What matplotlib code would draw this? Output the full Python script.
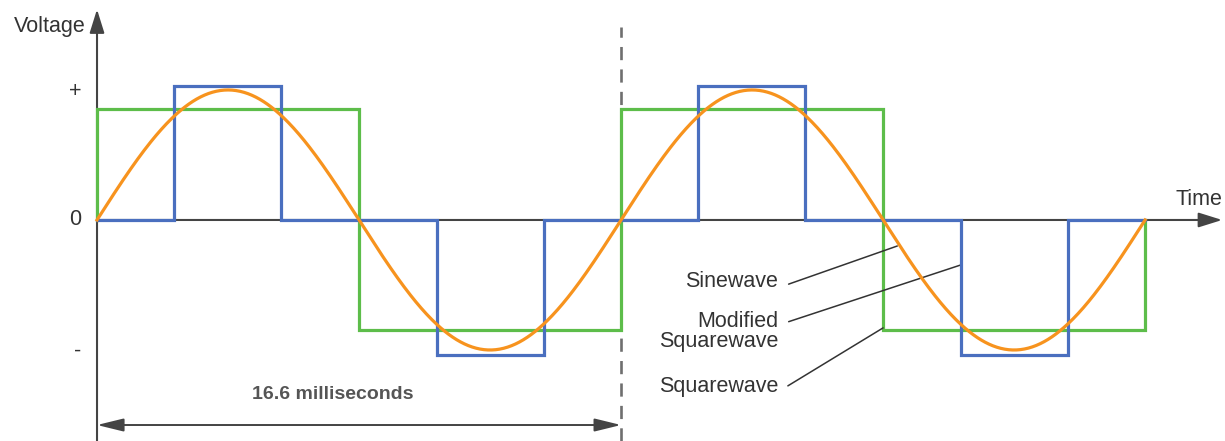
import numpy as np
import matplotlib
matplotlib.use("Agg")
import matplotlib.pyplot as plt

# ---- data ----
period_ms = 16.6
n_periods = 2
sine_amplitude = 1.0

square_t = [0, 0, 8.3, 8.3, 16.6, 16.6, 24.9, 24.9, 33.2, 33.2]
square_v = [0, 0.85, 0.85, -0.85, -0.85, 0.85, 0.85, -0.85, -0.85, 0]

mod_t = [0, 2.44, 2.44, 5.84, 5.84, 10.76, 10.76, 14.16, 14.16,
         19.04, 19.04, 22.44, 22.44, 27.36, 27.36, 30.76, 30.76, 33.2]
mod_v = [0, 0, 1.03, 1.03, 0, 0, -1.04, -1.04, 0,
         0, 1.03, 1.03, 0, 0, -1.04, -1.04, 0, 0]

y_tick_pos = [0.99, 0.0, -1.01]
y_tick_labels = ["+", "0", "-"]

# ---- style ----
BLUE = "#4a6fbf"
GREEN = "#5dbd4a"
ORANGE = "#f7931e"
AXIS = "#444444"
TEXT = "#333333"
FS = 15.5
plt.rcParams["font.family"] = ["Liberation Sans", "DejaVu Sans"]

fig = plt.figure(figsize=(12.25, 4.41), dpi=100)
ax = fig.add_axes([0, 0, 1, 1])
ax.set_xlim(-3.073, 35.73)
ax.set_ylim(-1.70, 1.692)
ax.axis("off")

# axes arrows
ax.annotate("", xy=(0, 1.62), xytext=(0, -1.70),
            arrowprops=dict(arrowstyle="-|>,head_length=0.8,head_width=0.25",
                            mutation_scale=18, color=AXIS, lw=1.5,
                            shrinkA=0, shrinkB=0), zorder=1)
ax.annotate("", xy=(35.64, 0), xytext=(0, 0),
            arrowprops=dict(arrowstyle="-|>,head_length=0.8,head_width=0.25",
                            mutation_scale=18, color=AXIS, lw=1.5,
                            shrinkA=0, shrinkB=0), zorder=1)

# period marker
ax.vlines(period_ms, -1.70, 1.485, colors="#6f6f6f", linestyles=(0, (5, 3.5)), lw=1.9, zorder=1)

# waves
t = np.linspace(0, n_periods * period_ms, 800)
sine_v = sine_amplitude * np.sin(2 * np.pi * t / period_ms)
ax.plot(square_t, square_v, color=GREEN, lw=2.3, zorder=3, solid_joinstyle="miter")
ax.plot(mod_t, mod_v, color=BLUE, lw=2.3, zorder=4, solid_joinstyle="miter")
ax.plot(t, sine_v, color=ORANGE, lw=2.3, zorder=5)

# axis labels
ax.text(-0.37, 1.49, "Voltage", ha="right", va="center", fontsize=FS, color=TEXT)
ax.text(35.65, 0.155, "Time", ha="right", va="center", fontsize=FS, color=TEXT)
for yp, lab in zip(y_tick_pos, y_tick_labels):
    ax.text(-0.5, yp, lab, ha="right", va="center", fontsize=FS, color=TEXT)

# leader annotations
lead = dict(arrowstyle="-", color="#333333", lw=1.1, shrinkA=6, shrinkB=0)
ax.annotate("Sinewave", xy=(25.35, -0.20), xytext=(21.57, -0.477),
            ha="right", va="center", fontsize=FS, color=TEXT,
            arrowprops=dict(relpos=(1, 0.22), **lead))
ax.annotate("Modified\nSquarewave", xy=(27.36, -0.346), xytext=(21.57, -0.86),
            ha="right", va="center", fontsize=FS, color=TEXT, linespacing=0.95,
            arrowprops=dict(relpos=(1, 0.66), **lead))
ax.annotate("Squarewave", xy=(24.9, -0.83), xytext=(21.57, -1.277),
            ha="right", va="center", fontsize=FS, color=TEXT,
            arrowprops=dict(relpos=(1, 0.22), **lead))

# period dimension
ax.annotate("", xy=(0, -1.577), xytext=(period_ms, -1.577),
            arrowprops=dict(arrowstyle="<|-|>,head_length=0.9,head_width=0.22",
                            mutation_scale=18, color=AXIS, lw=1.4,
                            shrinkA=0, shrinkB=0))
ax.text(7.48, -1.346, "16.6 milliseconds", ha="center", va="center",
        fontsize=14, fontweight="bold", color="#555555")

fig.savefig("out.png", dpi=100)
